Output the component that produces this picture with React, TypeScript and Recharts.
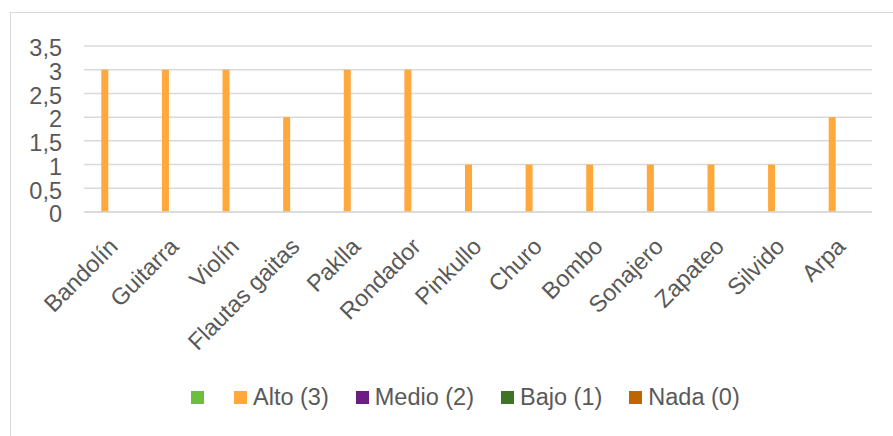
import React from 'react';
import { BarChart, Bar, XAxis, YAxis, CartesianGrid } from 'recharts';

const instruments = [
  'Bandolín', 'Guitarra', 'Violín', 'Flautas gaitas', 'Paklla', 'Rondador',
  'Pinkullo', 'Churo', 'Bombo', 'Sonajero', 'Zapateo', 'Silvido', 'Arpa',
];
const altoValues = [3, 3, 3, 2, 3, 3, 1, 1, 1, 1, 1, 1, 2];
const yTicks = [0, 0.5, 1, 1.5, 2, 2.5, 3, 3.5];

const series = [
  { key: 'blank', name: '', color: '#6DBE3A' },
  { key: 'alto', name: 'Alto (3)', color: '#FFA83C' },
  { key: 'medio', name: 'Medio (2)', color: '#6B1D82' },
  { key: 'bajo', name: 'Bajo (1)', color: '#3F7325' },
  { key: 'nada', name: 'Nada (0)', color: '#BF6500' },
];

const data = instruments.map((name, i) => ({
  name,
  blank: null,
  alto: altoValues[i],
  medio: null,
  bajo: null,
  nada: null,
}));

const FONT = '"Liberation Sans", Arial, Helvetica, sans-serif';
const TEXT = '#595959';
const GRID = '#d9d9d9';
const FS = 23.5;

const XTick = (props: any) => {
  const { x, y, payload } = props;
  return (
    <text
      x={x + 5}
      y={y + 28}
      transform={`rotate(-45, ${x + 5}, ${y + 28})`}
      textAnchor="end"
      fontSize={FS}
      fontFamily={FONT}
      fill={TEXT}
    >
      {payload.value}
    </text>
  );
};

export default function App() {
  return (
    <div style={{ position: 'absolute', left: 0, top: 0, width: 893, height: 436, background: '#fff', overflow: 'hidden' }}>
      <div
        style={{
          position: 'absolute', left: 10, top: 12, width: 900, height: 440,
          borderTop: `1px solid ${GRID}`, borderLeft: `1px solid ${GRID}`,
        }}
      />
      <div style={{ position: 'absolute', left: 0, top: 0 }}>
        <BarChart
          width={893}
          height={436}
          data={data}
          margin={{ top: 46, right: 21, left: 0, bottom: 0 }}
          barGap={2.3}
        >
          <CartesianGrid vertical={false} stroke={GRID} strokeWidth={1.5} />
          <XAxis
            dataKey="name"
            interval={0}
            height={224}
            tickLine={false}
            axisLine={{ stroke: GRID, strokeWidth: 1.5 }}
            tick={<XTick />}
          />
          <YAxis
            width={84}
            domain={[0, 3.5]}
            ticks={yTicks}
            interval={0}
            axisLine={false}
            tickLine={false}
            tickSize={0}
            tickMargin={22}
            tick={{ fontSize: FS, fontFamily: FONT, fill: TEXT, dy: 2 }}
            tickFormatter={(v: number) => String(v).replace('.', ',')}
          />
          {series.map((s) => (
            <Bar
              key={s.key}
              dataKey={s.key}
              name={s.name}
              fill={s.color}
              barSize={7}
              isAnimationActive={false}
            />
          ))}
        </BarChart>
      </div>
      <div
        style={{
          position: 'absolute', left: 191, top: 384, display: 'flex', alignItems: 'center',
          fontFamily: FONT, fontSize: FS, color: TEXT, whiteSpace: 'nowrap',
        }}
      >
        {series.map((s) => (
          <div key={s.key} style={{ display: 'flex', alignItems: 'center', marginRight: s.name ? 27 : 30 }}>
            <span style={{ display: 'inline-block', width: 13, height: 13, background: s.color }} />
            {s.name ? <span style={{ marginLeft: 6 }}>{s.name}</span> : null}
          </div>
        ))}
      </div>
    </div>
  );
}
